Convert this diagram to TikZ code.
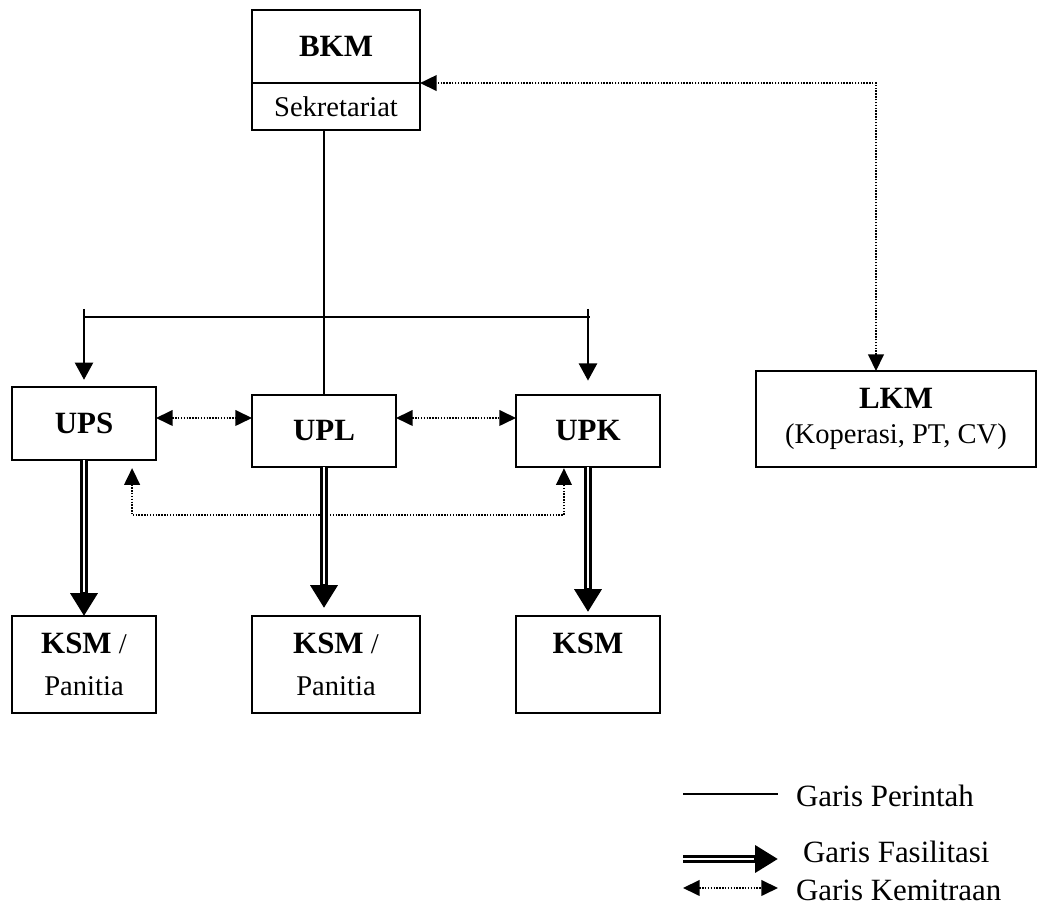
\documentclass[tikz,border=0pt]{standalone}
\usepackage{fontspec}
\setmainfont{Liberation Serif}
\usetikzlibrary{arrows.meta}
\newcommand{\judul}[1]{{\fontsize{13}{15}\selectfont\bfseries #1}}

\begin{document}
\begin{tikzpicture}[x=0.42pt,y=-0.42pt,line width=0.85pt,
	box/.style={draw,line width=0.9pt,inner sep=0pt,outer sep=0pt,align=center,font=\fontsize{12}{14.4}\selectfont},
	unit/.style={box,minimum width=60.5pt,minimum height=30.5pt},
	ksm/.style={box,minimum width=60.5pt,minimum height=40.7pt,font=\fontsize{12}{17.6}\selectfont},
	perintah/.style={-{Triangle[width=7.6pt,length=7.2pt]}},
	kemitraan/.style={{Triangle[width=6.6pt,length=7pt]}-{Triangle[width=6.6pt,length=7pt]},line width=0.7pt,dash pattern=on 0.6pt off 0.6pt},
	fasilitasi/.style={line width=3.6pt,-{Triangle[width=11pt,length=9.6pt]},postaction={draw=white,line width=1.2pt,-,shorten >=10pt}}]
  \useasboundingbox (0,0) rectangle (1040,920);

  % boxes
  \node[box,minimum width=70.6pt,minimum height=30.7pt]	(bkm)	at (336,46.5)	{\judul{BKM}};
  \node[box,minimum width=70.6pt,minimum height=19.7pt,anchor=north]	(sekr)	at (bkm.south)	{Sekretariat};
  \node[unit,minimum height=30.7pt]	(ups)	at (84,423.5)	{\judul{UPS}};
  \node[unit]	(upl)	at (324,431)	{\judul{UPL}};
  \node[unit]	(upk)	at (588,431)	{\judul{UPK}};
  \node[box,minimum width=117.6pt,minimum height=40.3pt]	(lkm)	at (896,419)	{\judul{LKM}\\(Koperasi, PT, CV)};
  \node[ksm]	(ksm1)	at (84,664.5)	{\judul{KSM} /\\Panitia};
  \node[ksm,minimum width=70.6pt]	(ksm2)	at (336,664.5)	{\judul{KSM} /\\Panitia};
  \node[ksm]	(ksm3)	at (588,664.5)	{\judul{KSM}\\\phantom{Panitia}};

  % garis perintah
  \coordinate (hl) at (84,317);
  \coordinate (hr) at (590,317);
  \coordinate (kiri) at (84,309);
  \coordinate (kanan) at (588,309);
  \draw (sekr.south -| upl.north) -- (upl.north);
  \draw (hl) -- (hr);
  \draw[perintah,shorten >=3pt] (kiri) -- (ups);
  \draw[perintah,shorten >=5.9pt] (kanan) -- (upk);

  % garis kemitraan
  \coordinate (m) at (0,418);
  \draw[kemitraan] ([xshift=-8.4pt]lkm.north) |- (bkm.south east);
  \draw[kemitraan] (ups.east |- m) -- (upl.west |- m);
  \draw[kemitraan] (upl.east |- m) -- (upk.west |- m);
  \path ([xshift=20.2pt,yshift=-3.4pt]ups.south) coordinate (b1);
  \path ([xshift=-10.1pt,yshift=-0.4pt]upk.south) coordinate (b2);
  \draw[kemitraan] (b1) -- ++(0,47) -| (b2);

  % garis fasilitasi
  \path (upl.south |- ksm2.north) ++(0,-8) coordinate (t2);
  \path (upk.south |- ksm3.north) ++(0,-4) coordinate (t3);
  \draw[fasilitasi] (ups) -- (ksm1);
  \draw[fasilitasi] (upl.south) -- (t2);
  \draw[fasilitasi] (upk.south) -- (t3);

  % keterangan
  \coordinate (p1) at (683,794);	\coordinate (p2) at (778,794);
  \coordinate (f1) at (683,859);	\coordinate (f2) at (778,859);
  \coordinate (k1) at (683,888);	\coordinate (k2) at (778,888);
  \draw (p1) -- (p2);
  \draw[fasilitasi] (f1) -- (f2);
  \draw[kemitraan] (k1) -- (k2);
  \node[anchor=west,inner sep=0pt,font=\fontsize{13}{15}\selectfont]	(lp)	at (795,796)	{Garis Perintah};
  \node[anchor=west,inner sep=0pt,font=\fontsize{13}{15}\selectfont]	(lf)	at (802,852)	{Garis Fasilitasi};
  \node[anchor=west,inner sep=0pt,font=\fontsize{13}{15}\selectfont]	(lk)	at (795,890)	{Garis Kemitraan};
\end{tikzpicture}
\end{document}
